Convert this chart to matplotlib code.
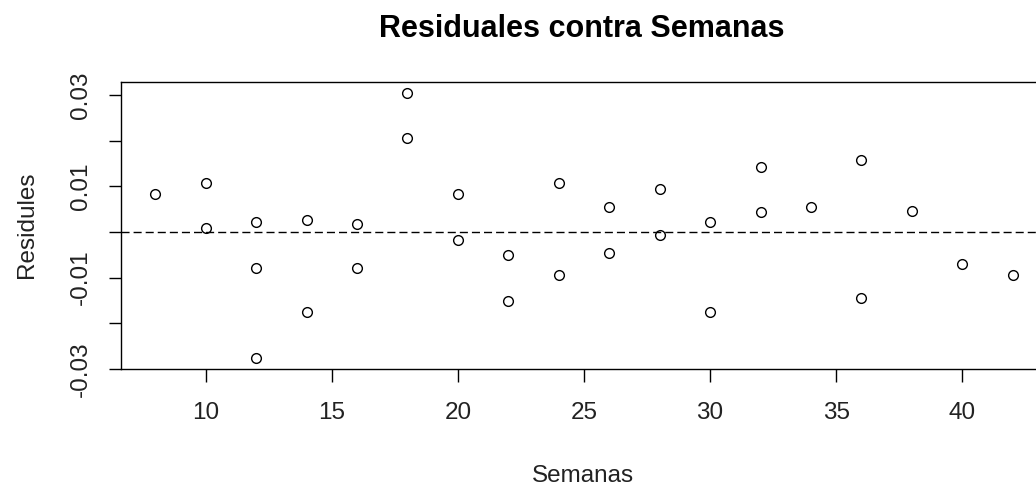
import numpy as np
import matplotlib
matplotlib.use('Agg')
import matplotlib.pyplot as plt

plt.rcParams['font.family'] = ['Liberation Sans', 'DejaVu Sans']
plt.rcParams['lines.scale_dashes'] = False

# semanas y residuales del modelo
semanas = [8, 10, 10, 12, 12, 12, 14, 14, 16, 16, 18, 18, 20, 20, 22, 22, 24, 24,
           26, 26, 28, 28, 30, 30, 32, 32, 34, 36, 36, 38, 40, 42]
residuales = [0.0082, 0.0107, 0.0008, 0.0022, -0.0080, -0.0277, 0.0026, -0.0176,
              0.0018, -0.0080, 0.0305, 0.0205, 0.0082, -0.0017, -0.0051, -0.0151,
              0.0107, -0.0094, 0.0054, -0.0046, 0.0093, -0.0006, 0.0022, -0.0176,
              0.0142, 0.0043, 0.0054, 0.0157, -0.0144, 0.0046, -0.0070, -0.0094]

xticks = [10, 15, 20, 25, 30, 35, 40]
yticks = [-0.03, -0.02, -0.01, 0.0, 0.01, 0.02, 0.03]
ylabels = ['-0.03', '', '-0.01', '', '0.01', '', '0.03']

W, H = 1036, 490
fig = plt.figure(figsize=(W / 100, H / 100), dpi=100)
# caja de ejes en pixeles: 121..1047 horizontal, 82..369 vertical
ax = fig.add_axes([121 / W, 1 - 369 / H, (1047 - 121) / W, (369 - 82) / H])

x = np.array(semanas)
y = np.array(residuales)
xr = x.max() - x.min()
yr = y.max() - y.min()
ax.set_xlim(x.min() - 0.04 * xr, x.max() + 0.04 * xr)
ax.set_ylim(y.min() - 0.04 * yr, y.max() + 0.04 * yr)

ax.plot(x, y, 'o', mfc='none', mec='black', ms=7, mew=1.0)
ax.axhline(0, color='black', lw=1.0, dashes=(5.8, 2.9))

for s in ax.spines.values():
    s.set_linewidth(1.0)

ax.set_xticks(xticks)
ax.set_xticklabels([str(t) for t in xticks])
ax.set_yticks(yticks)
ax.set_yticklabels(ylabels, rotation=90, va='center')
ax.tick_params(direction='out', length=9, width=1.0, labelsize=17.5, labelcolor='#222222')
ax.tick_params(axis='x', pad=15)
ax.tick_params(axis='y', pad=12)

fig.text(583 / W, 1 - 482 / H, 'Semanas', ha='center', va='baseline', fontsize=17.5,
         color='#222222')
fig.text(33 / W, 1 - 225 / H, 'Residules', ha='center', va='baseline',
         rotation=90, rotation_mode='anchor', fontsize=17.5, color='#222222')
fig.text(582 / W, 1 - 37 / H, 'Residuales contra Semanas', ha='center', va='baseline',
         fontsize=22, fontweight='bold')

fig.savefig('out.png', dpi=100)
